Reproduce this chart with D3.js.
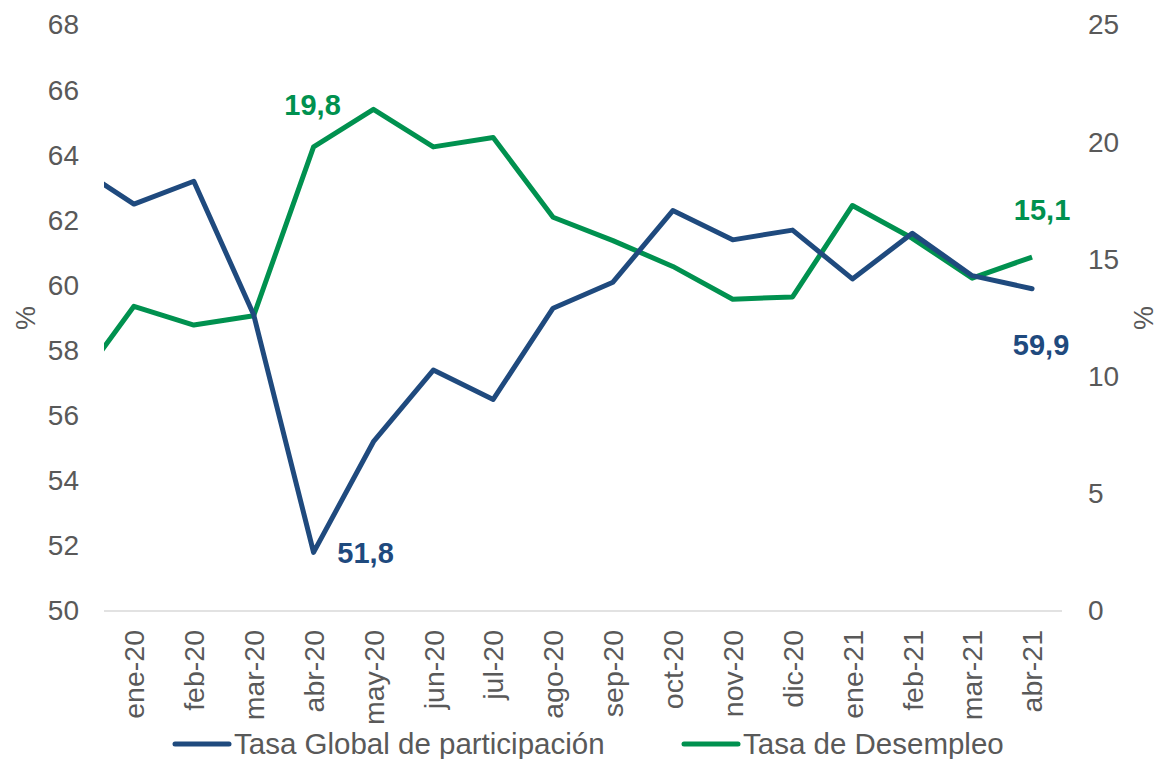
<!DOCTYPE html>
<html>
<head>
<meta charset="utf-8">
<script src="https://cdn.jsdelivr.net/npm/d3@7"></script>
<style>
  body { margin: 0; background: #fff; }
  text { font-family: "Liberation Sans", Arial, sans-serif; }
</style>
</head>
<body>
<div id="chart"></div>
<script>
// months (dic-19 only feeds the clipped start of the lines)
const months = ["dic-19", "ene-20", "feb-20", "mar-20", "abr-20", "may-20", "jun-20", "jul-20",
  "ago-20", "sep-20", "oct-20", "nov-20", "dic-20", "ene-21", "feb-21", "mar-21", "abr-21"];
const visibleMonths = months.slice(1);

// Tasa Global de participación (left axis)
const tgp = [63.7, 62.5, 63.2, 59.1, 51.8, 55.2, 57.4, 56.5, 59.3, 60.1, 62.3, 61.4, 61.7, 60.2, 61.6, 60.3, 59.9];
// Tasa de Desempleo (right axis)
const td = [9.5, 13.0, 12.2, 12.6, 19.8, 21.4, 19.8, 20.2, 16.8, 15.8, 14.7, 13.3, 13.4, 17.3, 15.9, 14.2, 15.1];

const leftTicks = [50, 52, 54, 56, 58, 60, 62, 64, 66, 68];
const rightTicks = [0, 5, 10, 15, 20, 25];

const width = 1159, height = 759;
const margin = { left: 104, right: 97, top: 25, bottom: 148 };
const plotRight = width - margin.right;
const plotBottom = height - margin.bottom;

const blue = "#1f4a7e";
const green = "#00914f";
const grey = "#595959";

const step = (plotRight - margin.left) / visibleMonths.length;

// band scale that also has room for the hidden dic-19 slot left of the plot
const x = d3.scaleBand()
  .domain(months)
  .range([margin.left - step, plotRight])
  .padding(0);
const cx = m => x(m) + x.bandwidth() / 2;

const yL = d3.scaleLinear().domain([50, 68]).range([plotBottom, margin.top]);
const yR = d3.scaleLinear().domain([0, 25]).range([plotBottom, margin.top]);

const svg = d3.select("#chart").append("svg")
  .attr("width", width)
  .attr("height", height);

svg.append("defs").append("clipPath")
  .attr("id", "plot-clip")
  .append("rect")
  .attr("x", margin.left)
  .attr("y", 0)
  .attr("width", plotRight - margin.left)
  .attr("height", height);

// baseline
svg.append("line")
  .attr("x1", margin.left).attr("x2", plotRight)
  .attr("y1", plotBottom).attr("y2", plotBottom)
  .attr("stroke", "#d9d9d9")
  .attr("stroke-width", 1.5);

// x axis with rotated labels
const xAxis = svg.append("g")
  .attr("transform", `translate(0,${plotBottom})`)
  .call(d3.axisBottom(x).tickValues(visibleMonths).tickSize(0));
xAxis.select(".domain").remove();
xAxis.selectAll("text")
  .attr("transform", "rotate(-90)")
  .attr("x", -19)
  .attr("y", 0)
  .attr("dy", "0.36em")
  .attr("text-anchor", "end")
  .attr("fill", grey)
  .style("font-size", "28.5px");

// left axis
const leftAxis = svg.append("g")
  .attr("transform", `translate(${margin.left},0)`)
  .call(d3.axisLeft(yL).tickValues(leftTicks).tickSize(0).tickPadding(25));
leftAxis.select(".domain").remove();
leftAxis.selectAll("text")
  .attr("fill", grey)
  .style("font-size", "28px");

// right axis
const rightAxis = svg.append("g")
  .attr("transform", `translate(${plotRight},0)`)
  .call(d3.axisRight(yR).tickValues(rightTicks).tickSize(0).tickPadding(26));
rightAxis.select(".domain").remove();
rightAxis.selectAll("text")
  .attr("fill", grey)
  .style("font-size", "28px");

// axis titles
svg.append("text")
  .attr("transform", `translate(25,${(plotBottom + margin.top) / 2}) rotate(-90)`)
  .attr("text-anchor", "middle")
  .attr("dy", "0.36em")
  .attr("fill", grey)
  .style("font-size", "27px")
  .text("%");
svg.append("text")
  .attr("transform", `translate(1143,${(plotBottom + margin.top) / 2}) rotate(-90)`)
  .attr("text-anchor", "middle")
  .attr("dy", "0.36em")
  .attr("fill", grey)
  .style("font-size", "27px")
  .text("%");

// lines
const lineL = d3.line().x((d, i) => cx(months[i])).y(d => yL(d));
const lineR = d3.line().x((d, i) => cx(months[i])).y(d => yR(d));

const lines = svg.append("g").attr("clip-path", "url(#plot-clip)");
lines.append("path")
  .datum(td)
  .attr("d", lineR)
  .attr("fill", "none")
  .attr("stroke", green)
  .attr("stroke-width", 5)
  .attr("stroke-linejoin", "round");
lines.append("path")
  .datum(tgp)
  .attr("d", lineL)
  .attr("fill", "none")
  .attr("stroke", blue)
  .attr("stroke-width", 5)
  .attr("stroke-linejoin", "round")
  .attr("stroke-linecap", "round");

// data labels
const labelFmt = v => d3.format(".1f")(v).replace(".", ",");
const labels = [
  { series: td, scale: yR, idx: 4, color: green, dx: -1, dy: -32 },
  { series: tgp, scale: yL, idx: 4, color: blue, dx: 52, dy: 11 },
  { series: td, scale: yR, idx: 16, color: green, dx: 10, dy: -37 },
  { series: tgp, scale: yL, idx: 16, color: blue, dx: 9, dy: 66 }
];
svg.append("g")
  .selectAll("text")
  .data(labels)
  .join("text")
  .attr("x", d => cx(months[d.idx]) + d.dx)
  .attr("y", d => d.scale(d.series[d.idx]) + d.dy)
  .attr("text-anchor", "middle")
  .attr("fill", d => d.color)
  .style("font-size", "29px")
  .style("font-weight", "bold")
  .text(d => labelFmt(d.series[d.idx]));

// legend
const legendItems = [
  { name: "Tasa Global de participación", color: blue, x: 175 },
  { name: "Tasa de Desempleo", color: green, x: 684 }
];
const legend = svg.append("g")
  .selectAll("g")
  .data(legendItems)
  .join("g")
  .attr("transform", d => `translate(${d.x},744)`);
legend.append("line")
  .attr("x1", 0).attr("x2", 54)
  .attr("stroke", d => d.color)
  .attr("stroke-width", 5)
  .attr("stroke-linecap", "round");
legend.append("text")
  .attr("x", 59)
  .attr("y", 10)
  .attr("fill", grey)
  .style("font-size", "29.5px")
  .text(d => d.name);
</script>
</body>
</html>
